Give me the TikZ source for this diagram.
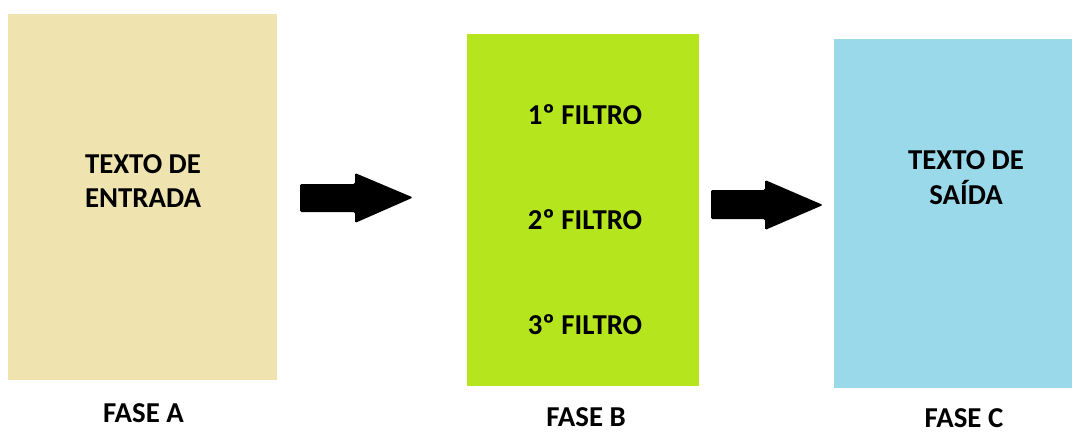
\documentclass[tikz,border=0pt]{standalone}
\usepackage{fontspec}
\setmainfont{Carlito}
\usepackage{xcolor}
\usetikzlibrary{positioning}

\definecolor{bege}{HTML}{EFE4B0}
\definecolor{lima}{HTML}{B5E61D}
\definecolor{azulclaro}{HTML}{99D9EA}

\begin{document}
\begin{tikzpicture}[x=0.025cm, y=-0.025cm]
        \tikzset{caixa/.style={draw=none, inner sep=0pt}}
        \tikzset{rotulo/.style={inner sep=0pt, align=center, font=\fontsize{20.5}{24.8}\selectfont\bfseries}}
        \tikzset{seta/.style={fill=black, rounded corners=1pt}}

        \useasboundingbox (0,0) rectangle (1080,434);

        % caixas das fases
        \node[caixa, fill=bege, minimum width=269*0.025cm, minimum height=366*0.025cm] (caixaA) at (142.5,197) {};
        \node[caixa, fill=lima, minimum width=232*0.025cm, minimum height=352*0.025cm] (caixaB) at (583,210) {};
        \node[caixa, fill=azulclaro, minimum width=238*0.025cm, minimum height=349*0.025cm] (caixaC) at (953,213.5) {};

        % textos
        \node[rotulo] (entrada) at (143,181) {TEXTO DE\\ENTRADA};
        \node[rotulo] (filtro1) at (585,115) {1º FILTRO};
        \node[rotulo] (filtro2) at (585,220) {2º FILTRO};
        \node[rotulo] (filtro3) at (585,325) {3º FILTRO};
        \node[rotulo] (saida) at (966,178) {TEXTO DE\\SAÍDA};

        \node[rotulo] (faseA) at (143.5,413) {FASE A};
        \node[rotulo] (faseB) at (586,417) {FASE B};
        \node[rotulo] (faseC) at (964,418) {FASE C};

        % setas
        \fill[seta] (300,184) -- (355,184) -- (355,173) -- (413,197.5) -- (355,223) -- (355,212) -- (300,212) -- cycle;
        \fill[seta] (711,190) -- (765,190) -- (765,180) -- (823,205) -- (765,230) -- (765,219) -- (711,219) -- cycle;
    \end{tikzpicture}
\end{document}
